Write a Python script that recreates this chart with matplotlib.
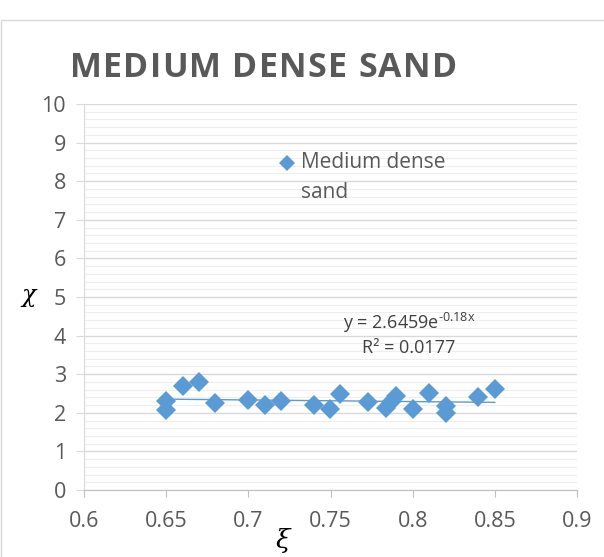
import numpy as np
import matplotlib.pyplot as plt
from matplotlib.patches import Rectangle

plt.rcParams["font.family"] = "Open Sans"
plt.rcParams["mathtext.fontset"] = "custom"
plt.rcParams["mathtext.rm"] = "Open Sans"
plt.rcParams["mathtext.it"] = "DejaVu Serif:italic"
plt.rcParams["axes.unicode_minus"] = False

# datos
xi = [0.65, 0.65, 0.66, 0.67, 0.68, 0.70, 0.71, 0.72, 0.74, 0.75,
      0.756, 0.773, 0.784, 0.787, 0.79, 0.80, 0.81, 0.82, 0.82, 0.84, 0.85]
chi = [2.31, 2.08, 2.70, 2.81, 2.25, 2.33, 2.19, 2.31, 2.21, 2.09,
       2.50, 2.29, 2.13, 2.29, 2.43, 2.09, 2.52, 2.18, 1.99, 2.40, 2.61]
a_coef = 2.6459
b_coef = -0.18
titulo = "MEDIUM DENSE SAND"

azul = "#5B9BD5"
gris = "#595959"

fig = plt.figure(figsize=(6.04, 5.57), dpi=100)
fig.patches.append(Rectangle((1/604, -0.1), 1.2, 1 - 20/557 + 0.1, transform=fig.transFigure,
                             fill=False, edgecolor="#d9d9d9", linewidth=1))
ax = fig.add_axes([84/604, 67/557, 493/604, 386/557])

ax.plot(xi, chi, "D", color=azul, markersize=10.5, markeredgewidth=0, zorder=3)

# linea de tendencia exponencial
xt = np.linspace(min(xi), max(xi), 50)
ax.plot(xt, a_coef * np.exp(b_coef * xt), color=azul, linewidth=1, zorder=2)

ax.set_xlim(0.6, 0.9)
ax.set_ylim(0, 10)
ax.set_xticks(np.arange(0.6, 0.91, 0.05))
ax.set_xticklabels(["0.6", "0.65", "0.7", "0.75", "0.8", "0.85", "0.9"])
ax.set_yticks(range(0, 11))
ax.set_yticks(np.arange(0, 10.01, 0.2), minor=True)
ax.grid(True, which="major", axis="y", color="#d9d9d9", linewidth=1)
ax.grid(True, which="minor", axis="y", color="#eeeeee", linewidth=0.8)
ax.set_axisbelow(True)
ax.tick_params(axis="x", which="major", length=5, color="#bfbfbf", labelsize=15.5, labelcolor=gris, pad=10)
ax.tick_params(axis="y", which="major", length=6, color="#d9d9d9", labelsize=15.5, labelcolor=gris, pad=7)
ax.tick_params(axis="y", which="minor", length=0)
for s in ["top", "right"]:
    ax.spines[s].set_visible(False)
ax.spines["left"].set_color("#d9d9d9")
ax.spines["bottom"].set_color("#bfbfbf")

ax.text(-0.11, 0.5, r"$\chi$", transform=ax.transAxes, fontsize=17, ha="center", va="center")
ax.text(0.405, -0.13, r"$\xi$", transform=ax.transAxes, fontsize=19, ha="center", va="center")

ax.text(0.659, 0.433, r"y = 2.6459e$^{\text{-0.18x}}$", transform=ax.transAxes,
        fontsize=13, color="#404040", ha="center", va="center")
ax.text(0.659, 0.368, "R² = 0.0177", transform=ax.transAxes,
        fontsize=13, color="#404040", ha="center", va="center")

# leyenda
ax.plot([0.412], [0.848], "D", color=azul, markersize=8, markeredgewidth=0,
        transform=ax.transAxes, clip_on=False)
ax.text(0.44, 0.848, "Medium dense", transform=ax.transAxes, fontsize=15,
        color=gris, ha="left", va="center")
ax.text(0.44, 0.770, "sand", transform=ax.transAxes, fontsize=15,
        color=gris, ha="left", va="center")

# titulo con espaciado entre letras
fig.canvas.draw()
r = fig.canvas.get_renderer()
anchos = []
for c in titulo:
    t = fig.text(0, 0, c if c != " " else "n", fontsize=24.5, fontweight="bold")
    anchos.append(t.get_window_extent(r).width * (0.4 if c == " " else 1.0))
    t.remove()
esp = (387 - sum(anchos)) / (len(titulo) - 1)
x0 = 70
for c, w in zip(titulo, anchos):
    if c != " ":
        fig.text(x0 / 604, 1 - 68 / 557, c, ha="left", va="center",
                 fontsize=24.5, fontweight="bold", color=gris)
    x0 += w + esp

fig.savefig("out.png", dpi=100)
